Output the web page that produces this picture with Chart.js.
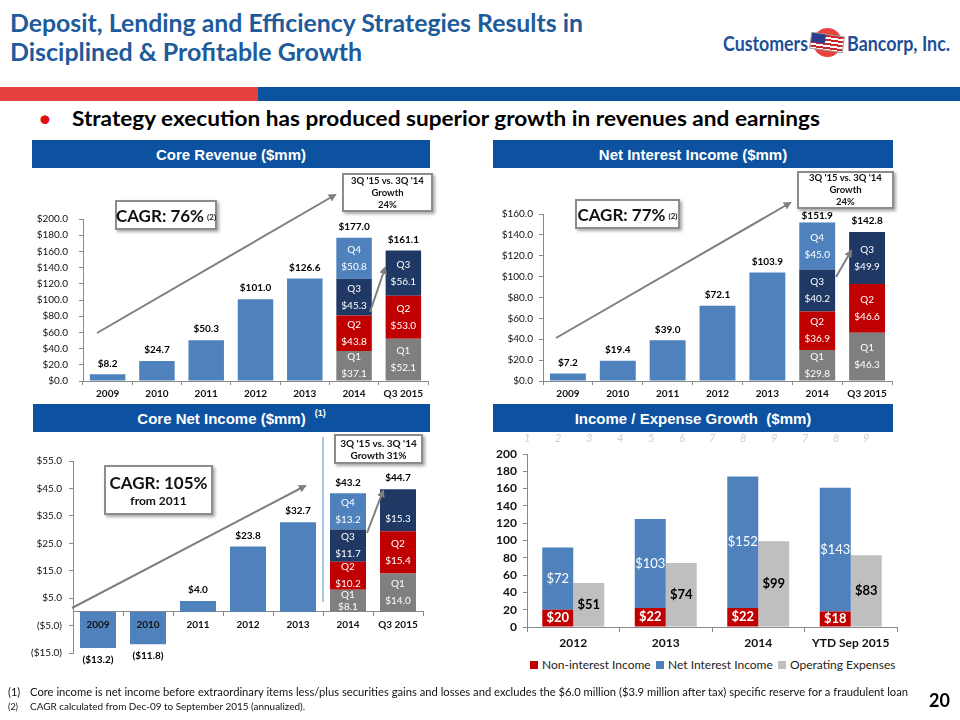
<!DOCTYPE html>
<html><head><meta charset="utf-8">
<script src="https://cdn.jsdelivr.net/npm/chart.js@4.4.1/dist/chart.umd.min.js"></script>
<style>
html,body{margin:0;padding:0;background:#fff;}
body{width:960px;height:720px;position:relative;overflow:hidden;font-family:Lato,'Liberation Sans',sans-serif;}
.abs{position:absolute;white-space:nowrap;}
.fit{transform-origin:0 50%;display:inline-block;}
.title{left:10px;color:#1d5b9b;font-weight:700;font-size:25px;line-height:28px;}
.hdr{position:absolute;background:#0c52a0;color:#fff;font-family:'Liberation Sans',Arial,sans-serif;font-weight:700;font-size:15px;display:flex;align-items:center;justify-content:center;height:28px;}
.box{position:absolute;background:#fff;border:2px solid #8c8c8c;box-shadow:2px 2px 3px rgba(0,0,0,.35);box-sizing:border-box;display:flex;flex-direction:column;align-items:center;justify-content:center;text-align:center;font-weight:700;color:#111;font-family:Lato,sans-serif;}
.cw{position:absolute;}
.lg{position:absolute;font-size:12px;color:#222;top:657px;white-space:nowrap;}
.lg i{display:inline-block;width:8px;height:8px;margin-right:4px;vertical-align:0px;}
.dg{position:absolute;top:431px;font-size:11px;color:#cfcfcf;font-style:italic;}
</style></head>
<body>
<div class="abs title" style="top:8px"><span class="fit" data-w="573">Deposit, Lending and Efficiency Strategies Results in</span></div>
<div class="abs title" style="top:37px"><span class="fit" data-w="352">Disciplined &amp; Profitable Growth</span></div>

<div class="abs" style="left:723px;top:31px;font-weight:700;font-size:20px;color:#1f4f97;line-height:24px"><span class="fit" data-w="85">Customers</span></div>
<div class="abs" style="left:813px;top:28px;width:29px;height:29px;border-radius:50%;background:#e8423f"></div>
<div class="abs" style="left:810px;top:34px;width:34px;height:17px;transform:rotate(8deg);background:repeating-linear-gradient(180deg,#c8282a 0 2px,#fff 2px 4px);border:1px solid #999;box-sizing:border-box"><div style="width:14px;height:9px;background:#2c3f8f"></div></div>
<div class="abs" style="left:847px;top:31px;font-weight:700;font-size:20px;color:#1f4f97;line-height:24px"><span class="fit" data-w="103">Bancorp, Inc.</span></div>

<div class="abs" style="left:0;top:87px;width:258px;height:14px;background:#e8403f"></div>
<div class="abs" style="left:258px;top:87px;width:702px;height:14px;background:#0b539f"></div>

<div class="abs" style="left:38px;top:104px;font-size:24px;color:#e01010;line-height:28px">•</div>
<div class="abs" style="left:72px;top:106px;font-weight:700;font-size:20px;color:#000;line-height:24px"><span class="fit" data-w="748">Strategy execution has produced superior growth in revenues and earnings</span></div>

<div class="hdr" style="left:32px;top:140px;width:398px;">Core Revenue ($mm)</div>
<div class="hdr" style="left:493px;top:140px;width:400px;">Net Interest Income ($mm)</div>
<div class="hdr" style="left:33px;top:404px;width:397px;"><span>Core Net Income ($mm)</span><span style="font-size:9px;position:relative;top:-5px;margin-left:9px">(1)</span></div>
<div class="hdr" style="left:493px;top:404px;width:400px;">Income / Expense Growth&nbsp;&nbsp;($mm)</div>

<div class="cw" style="left:20px;top:170px;width:410px;height:232px"><canvas id="c1"></canvas></div>
<div class="cw" style="left:480px;top:164px;width:415px;height:238px"><canvas id="c2"></canvas></div>
<div class="cw" style="left:10px;top:436px;width:415px;height:230px"><canvas id="c3"></canvas></div>
<div class="cw" style="left:470px;top:440px;width:430px;height:211px"><canvas id="c4"></canvas></div>

<div id="digits"></div>

<div class="lg" style="left:530px"><i style="background:#c00000"></i>Non-interest Income</div>
<div class="lg" style="left:656px"><i style="background:#4f81bd"></i>Net Interest Income</div>
<div class="lg" style="left:778px"><i style="background:#bfbfbf"></i>Operating Expenses</div>

<svg class="abs" style="left:0;top:0;pointer-events:none" width="960" height="720">
<defs><marker id="ah" markerWidth="8" markerHeight="8" refX="6" refY="4" orient="auto" markerUnits="userSpaceOnUse"><path d="M0,0 L8,4 L0,8 z" fill="#7f7f7f"/></marker></defs>
<g stroke="#7f7f7f" stroke-width="2" fill="none" marker-end="url(#ah)">
<line x1="97" y1="333" x2="335" y2="195"/>
<line x1="370" y1="312" x2="385" y2="268"/>
<line x1="556" y1="338" x2="790" y2="203"/>
<line x1="836" y1="277" x2="851" y2="251"/>
<line x1="72" y1="608" x2="305" y2="486"/>
<line x1="367" y1="533" x2="383" y2="491"/>
</g>
<line x1="323" y1="437" x2="323" y2="602" stroke="#8db3e2" stroke-width="1.5"/>
</svg>

<div class="box" style="left:115px;top:200px;width:102px;height:30px;font-size:17px;flex-direction:row"><span>CAGR:&nbsp;76%</span><span style="font-size:8px;margin-left:3px;margin-top:4px">(2)</span></div>
<div class="box" style="left:342px;top:173px;width:91px;height:39px;font-size:9.5px;line-height:12px"><div>3Q '15 vs. 3Q '14</div><div>Growth</div><div>24%</div></div>
<div class="box" style="left:575px;top:199px;width:105px;height:30px;font-size:17px;flex-direction:row"><span>CAGR:&nbsp;77%</span><span style="font-size:8px;margin-left:3px;margin-top:4px">(2)</span></div>
<div class="box" style="left:797px;top:171px;width:97px;height:38px;font-size:9.5px;line-height:12px"><div>3Q '15 vs. 3Q '14</div><div>Growth</div><div>24%</div></div>
<div class="box" style="left:104px;top:465px;width:109px;height:50px;"><div style="font-size:17px;line-height:21px">CAGR:&nbsp;105%</div><div style="font-size:12px;line-height:16px">from 2011</div></div>
<div class="box" style="left:334px;top:434px;width:89px;height:30px;font-size:10px;line-height:12px"><div>3Q '15 vs. 3Q '14</div><div>Growth 31%</div></div>

<div class="abs" style="left:8px;top:685px;font-size:11px;color:#111;line-height:14px">(1)</div>
<div class="abs" style="left:30px;top:685px;font-size:11px;color:#111;line-height:14px"><span class="fit" data-w="878">Core income is net income before extraordinary items less/plus securities gains and losses and excludes the $6.0 million ($3.9 million after tax) specific reserve for a fraudulent loan</span></div>
<div class="abs" style="left:8px;top:701px;font-size:9px;color:#111;line-height:12px">(2)</div>
<div class="abs" style="left:30px;top:701px;font-size:9px;color:#111;line-height:12px"><span class="fit" data-w="275">CAGR calculated from Dec-09 to September 2015 (annualized).</span></div>
<div class="abs" style="left:929px;top:689px;font-size:18px;font-weight:700;color:#000;line-height:22px">20</div>

<script>
// ---- Core Revenue ----
const revCats = ['2009','2010','2011','2012','2013','2014','Q3 2015'];
const revAnnual = [8.2, 24.7, 50.3, 101.0, 126.6, null, null];
const revQ1 = [null, null, null, null, null, 37.1, 52.1];
const revQ2 = [null, null, null, null, null, 43.8, 53.0];
const revQ3 = [null, null, null, null, null, 45.3, 56.1];
const revQ4 = [null, null, null, null, null, 50.8, null];
const revTotals = [8.2, 24.7, 50.3, 101.0, 126.6, 177.0, 161.1];
// ---- Net Interest Income ----
const niiCats = ['2009','2010','2011','2012','2013','2014','Q3 2015'];
const niiAnnual = [7.2, 19.4, 39.0, 72.1, 103.9, null, null];
const niiQ1 = [null, null, null, null, null, 29.8, 46.3];
const niiQ2 = [null, null, null, null, null, 36.9, 46.6];
const niiQ3 = [null, null, null, null, null, 40.2, 49.9];
const niiQ4 = [null, null, null, null, null, 45.0, null];
const niiTotals = [7.2, 19.4, 39.0, 72.1, 103.9, 151.9, 142.8];
// ---- Core Net Income ----
const cniCats = ['2009','2010','2011','2012','2013','2014','Q3 2015'];
const cniAnnual = [-13.2, -11.8, 4.0, 23.8, 32.7, null, null];
const cniQ1 = [null, null, null, null, null, 8.1, 14.0];
const cniQ2 = [null, null, null, null, null, 10.2, 15.4];
const cniQ3 = [null, null, null, null, null, 11.7, 15.3];
const cniQ4 = [null, null, null, null, null, 13.2, null];
const cniTotals = [-13.2, -11.8, 4.0, 23.8, 32.7, 43.2, 44.7];
// ---- Income / Expense ----
const ieCats = ['2012','2013','2014','YTD Sep 2015'];
const nonInterest = [20, 22, 22, 18];
const netInterest = [72, 103, 152, 143];
const opExpenses = [51, 74, 99, 83];
const ieTicks = [0,20,40,60,80,100,120,140,160,180,200];
const faintDigits = ['1','2','3','4','5','6','7','8','9','7','8','9'];

// faint digit row
(function(){
  const xs=[527,558,589,620,651,682,712,743,774,805,836,866];
  const d=document.getElementById('digits');
  faintDigits.forEach((t,i)=>{const s=document.createElement('div');s.className='dg';s.style.left=(xs[i]-3)+'px';s.textContent=t;d.appendChild(s);});
})();

// fit text widths
document.querySelectorAll('.fit').forEach(el=>{
  const w=el.getBoundingClientRect().width;const t=+el.dataset.w;
  if(w>0) el.style.transform='scaleX('+(t/w)+')';
});

const fmt1 = v => v < 0 ? '($' + Math.abs(v).toFixed(1) + ')' : '$' + v.toFixed(1);
const fmt0 = v => '$' + v;

const barLabels = {
  id: 'barLabels',
  afterDatasetsDraw(chart) {
    const o = chart.options.plugins.barLabels || {};
    const ctx = chart.ctx;
    ctx.save();
    ctx.textAlign = 'center';
    ctx.textBaseline = 'middle';
    chart.data.datasets.forEach((ds, di) => {
      if (!ds.seg) return;
      const meta = chart.getDatasetMeta(di);
      meta.data.forEach((el, i) => {
        const v = ds.data[i];
        if (v == null) return;
        const p = el.getProps(['x','y','base'], true);
        const cy = (p.y + p.base) / 2;
        const h = Math.abs(p.base - p.y);
        ctx.fillStyle = ds.seg.color;
        ctx.font = ds.seg.font;
        const txt = ds.seg.fmt(v);
        if (ds.seg.name) {
          const g = Math.min(8.5, h / 2 - 5.5);
          if (!(ds.seg.blankAt || []).includes(i)) ctx.fillText(ds.seg.name, p.x, cy - g);
          ctx.fillText(txt, p.x, cy + g);
        } else {
          ctx.fillText(txt, p.x, cy);
        }
      });
    });
    if (o.totals) {
      const xs = chart.scales.x, ys = chart.scales.y;
      ctx.fillStyle = '#000'; ctx.font = o.totalFont;
      o.totals.forEach((t, i) => {
        const x = xs.getPixelForValue(i);
        const off = (o.offsets && o.offsets[i]) || 11;
        const y = ys.getPixelForValue(t) + (t < 0 ? 12 : -off);
        ctx.fillText(fmt1(t), x, y);
      });
    }
    ctx.restore();
  }
};
Chart.register(barLabels);
Chart.defaults.font.family = 'Lato';

function quarterChart(id, cats, annual, q1, q2, q3, q4, totals, yr, cfg) {
  const mk = (label, data, color, blankAt) => ({label, data, backgroundColor: color,
    seg: {name: label, blankAt: blankAt || [], color: '#fff', font: '10px Lato', fmt: fmt1}});
  const xScale = {stacked: true,
    grid: {drawOnChartArea: false, drawTicks: true, tickLength: 4, color: '#8a8a8a'},
    border: {display: true, color: '#8a8a8a'},
    ticks: {font: {size: 10, weight: 'bold'}, color: '#111', padding: 3, z: 2, autoSkip: false, maxRotation: 0},
    afterFit: s => { s.height = cfg.xh; }};
  if (cfg.xPos) xScale.position = cfg.xPos;
  return new Chart(document.getElementById(id), {
    type: 'bar',
    data: {labels: cats, datasets: [
      {label: 'Annual', data: annual, backgroundColor: '#4F81BD'},
      mk('Q1', q1, '#7F7F7F'), mk('Q2', q2, '#C00000'), mk('Q3', q3, '#1F3864', cfg.q3Blank), mk('Q4', q4, '#4F81BD')
    ]},
    options: {
      responsive: true, maintainAspectRatio: false, animation: false,
      layout: {padding: cfg.pad},
      datasets: {bar: {barPercentage: 0.72, categoryPercentage: 1}},
      plugins: {legend: {display: false}, tooltip: {enabled: false},
        barLabels: {totals: totals, totalFont: 'bold 10px Lato', offsets: cfg.offsets}},
      scales: {
        x: xScale,
        y: {stacked: true, min: yr.min, max: yr.max,
          ticks: {stepSize: yr.step, autoSkip: false, callback: v => fmt1(v), font: {size: 10}, color: '#111', padding: cfg.yPad},
          grid: {drawOnChartArea: false, drawTicks: true, tickLength: 4, color: '#8a8a8a'},
          border: {display: true, color: '#8a8a8a'},
          afterFit: s => { s.width = cfg.yw; }}
      }
    }
  });
}

quarterChart('c1', revCats, revAnnual, revQ1, revQ2, revQ3, revQ4, revTotals,
  {min: 0, max: 200, step: 20}, {pad: {top: 49, right: 2, left: 0, bottom: 0}, yw: 63, xh: 21, yPad: 11});
quarterChart('c2', niiCats, niiAnnual, niiQ1, niiQ2, niiQ3, niiQ4, niiTotals,
  {min: 0, max: 160, step: 20}, {pad: {top: 50, right: 3, left: 0, bottom: 0}, yw: 63, xh: 21, yPad: 6,
  offsets: [11, 11, 11, 11, 11, 7, 11]});
quarterChart('c3', cniCats, cniAnnual, cniQ1, cniQ2, cniQ3, cniQ4, cniTotals,
  {min: -15, max: 55, step: 10}, {pad: {top: 25, right: 2, left: 0, bottom: 6}, yw: 63, xh: 21, yPad: 7, xPos: {y: 0}, q3Blank: [6]});

new Chart(document.getElementById('c4'), {
  type: 'bar',
  data: {labels: ieCats, datasets: [
    {label: 'Non-interest Income', data: nonInterest, backgroundColor: '#C00000', stack: 'inc',
      seg: {color: '#fff', font: 'bold 13px Lato', fmt: fmt0}},
    {label: 'Net Interest Income', data: netInterest, backgroundColor: '#4F81BD', stack: 'inc',
      seg: {color: '#fff', font: '13px Lato', fmt: fmt0}},
    {label: 'Operating Expenses', data: opExpenses, backgroundColor: '#BFBFBF', stack: 'exp',
      seg: {color: '#000', font: 'bold 13px Lato', fmt: fmt0}}
  ]},
  options: {
    responsive: true, maintainAspectRatio: false, animation: false,
    layout: {padding: {top: 14, right: 3, left: 0, bottom: 0}},
    datasets: {bar: {barPercentage: 1, categoryPercentage: 0.67}},
    plugins: {legend: {display: false}, tooltip: {enabled: false}, barLabels: {}},
    scales: {
      x: {stacked: true,
        grid: {drawOnChartArea: false, drawTicks: true, tickLength: 5, color: '#8a8a8a'},
        border: {display: true, color: '#8a8a8a'},
        ticks: {font: {size: 12, weight: 'bold'}, color: '#111', padding: 4, autoSkip: false, maxRotation: 0},
        afterFit: s => { s.height = 24; }},
      y: {stacked: true, min: 0, max: 200,
        afterBuildTicks: s => { s.ticks = ieTicks.map(v => ({value: v})); },
        ticks: {font: {size: 12, weight: 'bold'}, color: '#111', padding: 6, autoSkip: false},
        grid: {drawOnChartArea: false, drawTicks: true, tickLength: 4, color: '#8a8a8a'},
        border: {display: true, color: '#8a8a8a'},
        afterFit: s => { s.width = 57; }}
    }
  }
});
</script>
</body></html>
